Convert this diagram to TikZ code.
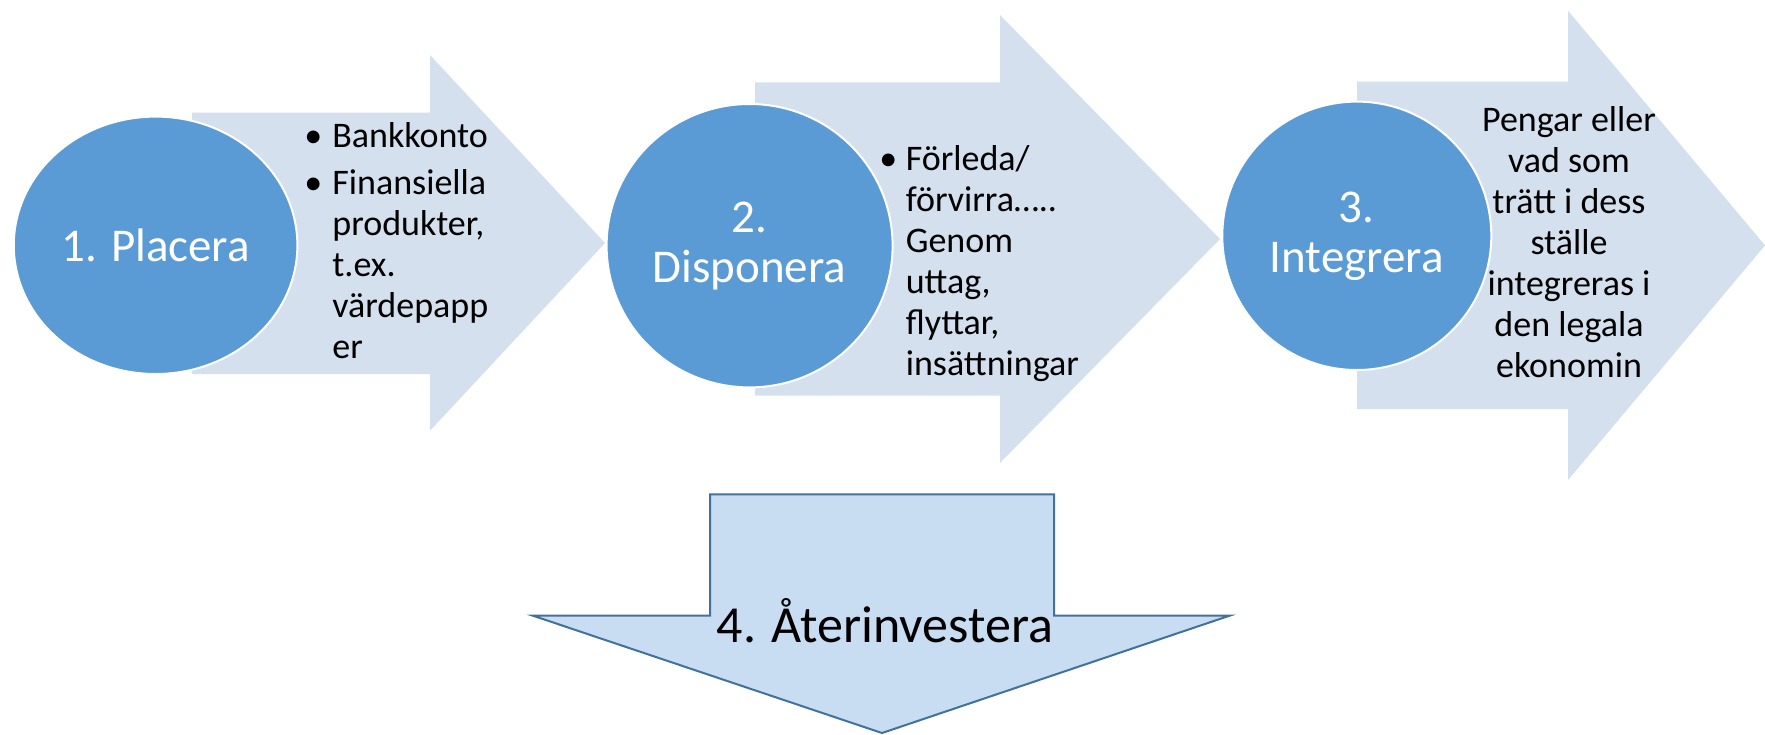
\documentclass[tikz,border=0pt]{standalone}
\usepackage{fontspec}
\setmainfont{Carlito}
\usetikzlibrary{shapes.geometric}

\definecolor{stageblue}{HTML}{5B9BD5}
\definecolor{bandblue}{HTML}{D5E0EE}
\definecolor{dropfill}{HTML}{C8DDF1}
\definecolor{dropline}{HTML}{41719C}

\begin{document}
\begin{tikzpicture}[
  x=0.5pt, y=-0.5pt,
  band/.style={fill=bandblue},
  stage/.style={ellipse, fill=stageblue, draw=white, line width=1pt,
    inner sep=0pt, text=white, align=center,
    font=\fontsize{23.5}{25}\selectfont},
  note/.style={inner sep=0pt, font=\fontsize{18}{20.5}\selectfont},
  drop/.style={fill=dropfill, draw=dropline, line width=1pt}
]
\useasboundingbox (0,0) rectangle (1765,734);

\fill[band] (192,112.7) -- (430,112.7) -- (430,55) -- (605,243) -- (430,430.7)
  -- (430,374) -- (192,374) -- cycle;
\fill[band] (755,82.3) -- (1000,82.3) -- (1000,15) -- (1220,239) -- (1000,463)
  -- (1000,395.7) -- (755,395.7) -- cycle;
\fill[band] (1357,81.7) -- (1568,81.7) -- (1568,10.7) -- (1765,245.4) -- (1568,480)
  -- (1568,409) -- (1357,409) -- cycle;

\node[stage, minimum width=141.8pt, minimum height=128.7pt] (place) at (155.6,245.3) {1. Placera};
\node[stage, minimum width=143pt, minimum height=141.7pt] (dispose) at (749.6,245.7) {2.\\Disponera};
\node[stage, minimum width=134.5pt, minimum height=134.2pt] (integrate) at (1356.8,235.8) {3.\\Integrera};

\node[note, anchor=base west] (placeinfo) at (313,147) {%
  \begin{tabular}[t]{@{}l@{\hspace{9.5pt}}l@{}}
  \makebox[0pt]{•} & Bankkonto\\[3pt]
  \makebox[0pt]{•} & Finansiella\\
   & produkter,\\
   & t.ex.\\
   & värdepapp\\
   & er
  \end{tabular}};
\node[note, anchor=base west] (disposeinfo) at (888,170) {%
  \begin{tabular}[t]{@{}l@{\hspace{8.7pt}}l@{}}
  \makebox[0pt]{•} & Förleda/\\
   & förvirra…..\\
   & Genom\\
   & uttag,\\
   & flyttar,\\
   & insättningar
  \end{tabular}};
\node[note, anchor=base] (integrateinfo) at (1569,131.7) {%
  \begin{tabular}[t]{@{}c@{}}
  Pengar eller\\
  vad som\\
  trätt i dess\\
  ställe\\
  integreras i\\
  den legala\\
  ekonomin
  \end{tabular}};

\draw[drop] (710,494.3) -- (1054,494.3) -- (1054,615.7) -- (1229.5,615.7)
  -- (882,733) -- (533,615.7) -- (710,615.7) -- cycle;
\node[anchor=base, inner sep=0pt, font=\fontsize{26}{30}\selectfont] (reinvest) at (885,642) {4. Återinvestera};
\end{tikzpicture}
\end{document}
